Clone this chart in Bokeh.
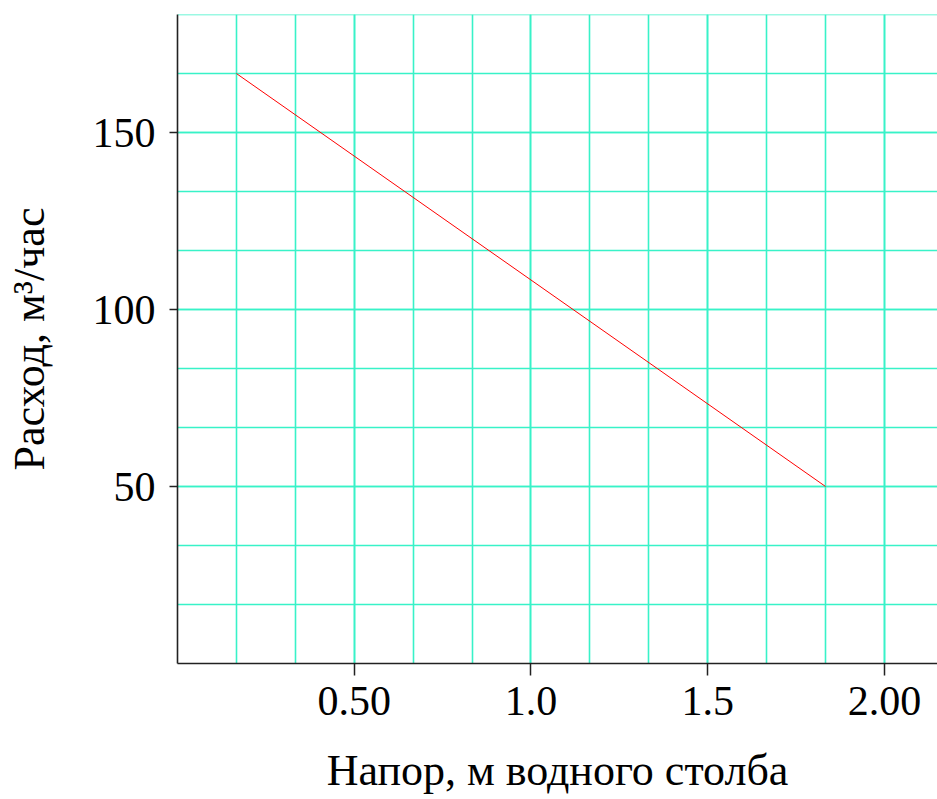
from bokeh.plotting import figure
from bokeh.models import Range1d, FixedTicker
from bokeh.embed import file_html
from bokeh.resources import INLINE

# Data
head = [1/6, 11/6]            # Напор, м водного столба
flow = [166.67, 50.0]         # Расход, м³/час

x_major = [0.5, 1.0, 1.5, 2.0]
x_major_labels = {0.5: "0.50", 1.0: "1.0", 1.5: "1.5", 2.0: "2.00"}
x_minor = [k / 6 for k in range(1, 13)]
y_major = [50, 100, 150]
y_major_labels = {50: "50", 100: "100", 150: "150"}
y_minor = [k * 50 / 3 for k in range(1, 12)]

x_title = "Напор, м водного столба"
y_title = "Расход, м³/час"

FONT = "Liberation Serif"
GRID = "#38F2C8"

p = figure(width=937, height=799, output_backend="svg", toolbar_location=None,
           x_range=Range1d(0, 2.150), y_range=Range1d(0, 183.34),
           min_border_left=177, min_border_right=0, min_border_top=14,
           min_border_bottom=136)
p.outline_line_color = None
p.background_fill_color = "white"
p.border_fill_color = "white"

p.line(head, flow, line_color="#FF0000", line_width=1)

p.xaxis.ticker = FixedTicker(ticks=x_major, minor_ticks=x_minor)
p.yaxis.ticker = FixedTicker(ticks=y_major, minor_ticks=y_minor)
p.xaxis.major_label_overrides = x_major_labels
p.yaxis.major_label_overrides = y_major_labels

for g in (p.xgrid, p.ygrid):
    g.grid_line_color = GRID
    g.grid_line_width = 1.6
    g.minor_grid_line_color = GRID
    g.minor_grid_line_width = 1.6

for ax in (p.xaxis, p.yaxis):
    ax.axis_line_color = "#222222"
    ax.axis_line_width = 1.6
    ax.major_tick_line_color = "#222222"
    ax.major_tick_line_width = 1.5
    ax.major_tick_in = 0
    ax.minor_tick_line_color = None
    ax.major_label_text_font = FONT
    ax.major_label_text_font_size = "42px"
    ax.major_label_text_color = "black"
    ax.axis_label_text_font = FONT
    ax.axis_label_text_font_size = "44px"
    ax.axis_label_text_font_style = "normal"
    ax.axis_label_text_color = "black"

p.xaxis.major_tick_out = 12
p.yaxis.major_tick_out = 8
p.xaxis.major_label_standoff = 11
p.yaxis.major_label_standoff = 14
p.xaxis.axis_label = x_title
p.yaxis.axis_label = y_title
p.xaxis.axis_label_standoff = 28
p.yaxis.axis_label_standoff = 36

open("out.html", "w").write(file_html(p, INLINE))
